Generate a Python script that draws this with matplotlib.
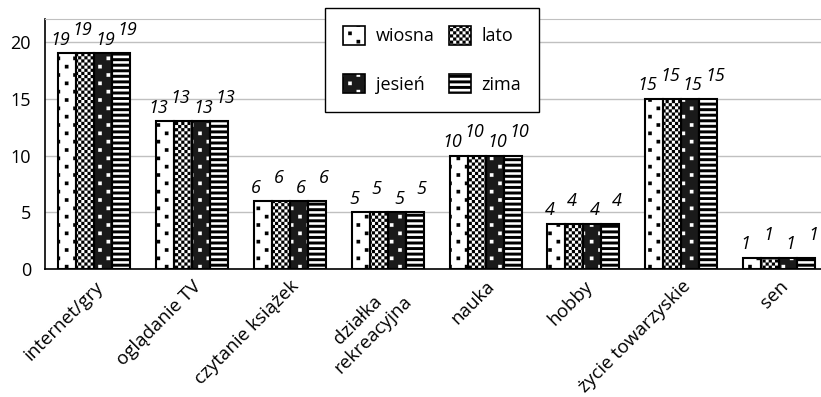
import warnings
import numpy as np
import matplotlib
matplotlib.use('Agg')
import matplotlib.pyplot as plt
from matplotlib import hatch as mhatch
from matplotlib.path import Path
from matplotlib.patches import Patch

warnings.filterwarnings('ignore')

# data
categories = ['internet/gry', 'oglądanie TV', 'czytanie książek', 'działka\nrekreacyjna',
              'nauka', 'hobby', 'życie towarzyskie', 'sen']
wiosna = [19, 13, 6, 5, 10, 4, 15, 1]
lato = [19, 13, 6, 5, 10, 4, 15, 1]
jesien = [19, 13, 6, 5, 10, 4, 15, 1]
zima = [19, 13, 6, 5, 10, 4, 15, 1]
series_names = ['wiosna', 'lato', 'jesień', 'zima']


# custom filled hatches: 's' square dots, 'c' checkerboard, 'h' thick stripes
class BoxHatch(mhatch.HatchPatternBase):
    def __init__(self, hatch, density):
        self.filled = True
        boxes = []
        if 's' in hatch:
            n, d = 6, 0.036
            for i in range(n + 1):
                for j in range(n + 1):
                    boxes.append((i / n - d / 2, j / n - d / 2, d, d))
                    boxes.append((i / n + 0.5 / n - d / 2, j / n + 0.5 / n - d / 2, d, d))
        if 'c' in hatch:
            n = 32
            for i in range(n):
                for j in range(n):
                    if (i + j) % 2 == 0:
                        boxes.append((i / n, j / n, 1 / n, 1 / n))
        if 'h' in hatch:
            n = 18
            for j in range(n):
                boxes.append((0, j / n, 1, 0.029))
        self.boxes = boxes
        self.num_vertices = len(boxes) * 5

    def set_vertices_and_codes(self, vertices, codes):
        for k, (x, y, w, h) in enumerate(self.boxes):
            vertices[k * 5:k * 5 + 5] = [(x, y), (x + w, y), (x + w, y + h), (x, y + h), (x, y)]
            codes[k * 5:k * 5 + 5] = [Path.MOVETO, Path.LINETO, Path.LINETO, Path.LINETO, Path.CLOSEPOLY]


mhatch._hatch_types.append(BoxHatch)

plt.rcParams['font.family'] = ['Open Sans', 'DejaVu Sans']
plt.rcParams['hatch.linewidth'] = 0.05

styles = [('white', 'black', 's'), ('white', 'black', 'c'), ('#1a1a1a', 'white', 's'), ('white', 'black', 'h')]

fig = plt.figure(figsize=(8.21, 3.97), dpi=100)
ax = fig.add_axes([0.0548, 0.3224, 0.954, 0.629])

x = np.arange(len(categories))
w = 0.184
handles = []
for k, vals in enumerate([wiosna, lato, jesien, zima]):
    fc, hc, ht = styles[k]
    pos = x + (k - 1.5) * w
    ax.bar(pos, vals, w, color=fc, edgecolor=hc, hatch=ht, linewidth=0, zorder=3)
    ax.bar(pos, vals, w, fill=False, edgecolor='black', linewidth=1.5, zorder=4)
    off = 6 if k % 2 == 0 else 13
    for px, v in zip(pos, vals):
        ax.annotate(str(v), (px, v), xytext=((k - 1.5) * 3.2, off), textcoords='offset points',
                    ha='center', va='baseline', fontsize=13, style='italic')
    h1 = Patch(facecolor=fc, edgecolor=hc, hatch=ht, linewidth=0)
    h2 = Patch(fill=False, edgecolor='black', linewidth=1.2)
    handles.append((h1, h2))

ax.set_xlim(-0.5, 7.5)
ax.set_ylim(0, 22)
ax.set_yticks([0, 5, 10, 15, 20])
ax.yaxis.grid(True, color='#c0c0c0', linewidth=1)
ax.set_axisbelow(True)
ax.set_xticks(x)
ax.set_xticklabels(categories, rotation=45, ha='right', va='top', rotation_mode='anchor',
                   fontsize=13.5, multialignment='center')
ax.tick_params(axis='x', length=0, pad=6)
ax.tick_params(axis='y', length=0, pad=10, labelsize=13)
ax.spines['right'].set_visible(False)
ax.spines['top'].set_color('#c0c0c0')
ax.spines['left'].set_linewidth(1.2)
ax.spines['bottom'].set_linewidth(1.2)

order = [0, 2, 1, 3]
leg = fig.legend([handles[i] for i in order], [series_names[i] for i in order], ncol=2,
                 loc='upper left', bbox_to_anchor=(0.396, 0.98), borderaxespad=0, fontsize=13,
                 fancybox=False, framealpha=1, edgecolor='black',
                 handlelength=1.2, handleheight=1.2, handletextpad=0.6,
                 columnspacing=0.8, labelspacing=1.6, borderpad=1.0)
leg.get_frame().set_linewidth(1)

fig.savefig('out.png', dpi=100)
